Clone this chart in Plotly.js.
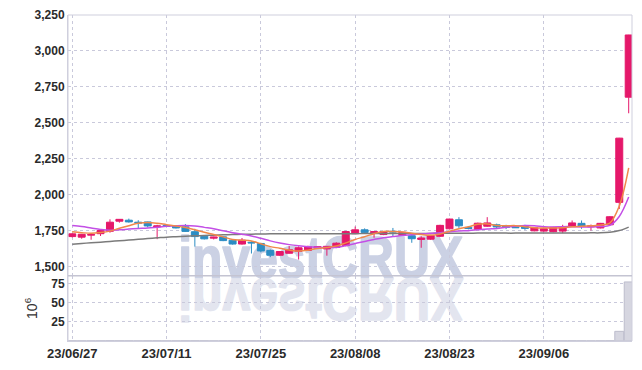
<!DOCTYPE html>
<html><head><meta charset="utf-8">
<script src="https://cdn.plot.ly/plotly-3.0.1.min.js"></script>
<style>html,body{margin:0;padding:0;background:#fff;}#chart{width:642px;height:370px;}</style>
</head><body><div id="chart"></div>
<script>
const dates = ['23/06/27','23/06/28','23/06/29','23/06/30',
 '23/07/03','23/07/04','23/07/05','23/07/06','23/07/07',
 '23/07/10','23/07/11','23/07/12','23/07/13','23/07/14',
 '23/07/17','23/07/18','23/07/19','23/07/20','23/07/21',
 '23/07/24','23/07/25','23/07/26','23/07/27','23/07/28',
 '23/07/31','23/08/01','23/08/02','23/08/03','23/08/04',
 '23/08/07','23/08/08','23/08/09','23/08/10','23/08/11',
 '23/08/14','23/08/16','23/08/17','23/08/18',
 '23/08/21','23/08/22','23/08/23','23/08/24','23/08/25',
 '23/08/28','23/08/29','23/08/30','23/08/31','23/09/01',
 '23/09/04','23/09/05','23/09/06','23/09/07','23/09/08',
 '23/09/11','23/09/12','23/09/13','23/09/14','23/09/15',
 '23/09/18','23/09/19'];
const openP = [1708,1704,1718,1728,1745,1815,1822,1808,1810,1775,1785,1783,1776,1742,1710,1697,1706,1683,1656,1668,1660,1612,1578,1592,1606,1612,1628,1622,1632,1645,1728,1755,1735,1722,1745,1716,1714,1688,1690,1710,1762,1825,1772,1757,1780,1790,1782,1775,1778,1748,1746,1742,1746,1780,1800,1776,1768,1790,1946,2678];
const highP = [1730,1726,1726,1755,1828,1830,1833,1822,1812,1790,1790,1788,1795,1762,1712,1707,1708,1686,1698,1676,1665,1618,1606,1642,1640,1645,1642,1640,1668,1748,1778,1765,1745,1745,1768,1740,1718,1710,1720,1790,1832,1843,1775,1805,1843,1798,1790,1778,1790,1771,1765,1776,1790,1820,1820,1792,1803,1850,2395,3112];
const lowP = [1702,1693,1686,1712,1735,1805,1805,1765,1772,1690,1775,1765,1740,1638,1688,1688,1676,1652,1652,1590,1598,1565,1574,1590,1548,1608,1625,1575,1628,1640,1725,1728,1700,1718,1712,1712,1665,1630,1685,1706,1758,1768,1758,1755,1776,1760,1760,1768,1755,1745,1742,1738,1732,1776,1762,1750,1765,1787,1900,2566];
const closeP = [1727,1724,1722,1750,1808,1828,1810,1802,1782,1782,1778,1768,1744,1708,1692,1704,1680,1656,1683,1664,1608,1578,1604,1616,1630,1638,1638,1640,1662,1743,1755,1737,1742,1743,1740,1738,1693,1698,1716,1786,1830,1783,1764,1801,1803,1775,1773,1770,1765,1769,1762,1772,1776,1803,1780,1782,1800,1846,2393,3111];
const ma5 = [1741,1735,1731,1736,1746,1766,1784,1800,1806,1801,
 1791,1782,1771,1756,1738,1723,1706,1688,1683,1677,
 1658,1638,1627,1614,1607,1613,1625,1632,1642,1664,
 1688,1707,1728,1744,1743,1740,1731,1722,1717,1726,
 1745,1763,1776,1793,1796,1785,1783,1784,1777,1770,
 1768,1768,1769,1776,1779,1783,1788,1802,1920,2186];
const ma10 = [1785,1778,1768,1758,1752,1755,1760,1764,1767,1773,
 1779,1783,1785,1782,1772,1762,1748,1735,1724,1712,
 1696,1678,1663,1652,1644,1638,1634,1632,1632,1645,
 1660,1674,1688,1700,1708,1716,1721,1726,1731,1735,
 1742,1747,1749,1755,1761,1765,1773,1780,1785,1783,
 1777,1775,1777,1777,1775,1775,1778,1786,1848,1983];
const ma60 = [1655,1660,1665,1669,1674,1679,1684,1689,1694,1699,
 1704,1707,1710,1713,1716,1718,1720,1722,1724,1725,
 1726,1727,1727,1727,1727,1727,1727,1728,1728,1728,
 1728,1729,1729,1729,1729,1730,1730,1730,1730,1731,
 1731,1731,1731,1732,1732,1732,1732,1732,1733,1733,
 1733,1733,1733,1733,1733,1734,1734,1738,1750,1774];
const volume = [0.4,0.3,0.3,0.4,0.6,0.5,0.4,0.3,0.4,0.5,
 0.3,0.3,0.4,0.5,0.4,0.3,0.3,0.4,0.4,0.5,
 0.5,0.5,0.3,0.4,0.4,0.3,0.3,0.3,0.4,0.6,
 0.5,0.4,0.3,0.3,0.3,0.3,0.4,0.4,0.4,0.5,
 0.5,0.5,0.3,0.5,0.5,0.3,0.3,0.2,0.3,0.3,
 0.3,0.3,0.4,0.5,0.4,0.3,0.4,0.5,12.6,77.0];
const priceTicks = [1500,1750,2000,2250,2500,2750,3000,3250];
const volTicks = [25,50,75];
const dateTicks = [dates[0],dates[10],dates[20],dates[30],dates[40],dates[50]];
const watermark = 'investCRUX';

const gridC = '#c9c9db', lineC = '#cfcfdd';
const tickFont = {family:'Liberation Sans, Arial, sans-serif', size:12, color:'#2a2a2a', weight:'bold'};

const data = [
 {type:'candlestick', x:dates, open:openP, high:highP, low:lowP, close:closeP, xaxis:'x', yaxis:'y',
  increasing:{line:{color:'#E5186A', width:1}, fillcolor:'#E5186A'},
  decreasing:{line:{color:'#2C8DC4', width:1}, fillcolor:'#2C8DC4'},
  hoverinfo:'skip'},
 {type:'scatter', mode:'lines', x:dates, y:ma60, line:{color:'#7b7b7b', width:1.5, shape:'spline'}, hoverinfo:'skip'},
 {type:'scatter', mode:'lines', x:dates, y:ma10, line:{color:'#C34FE6', width:1.5, shape:'spline'}, hoverinfo:'skip'},
 {type:'scatter', mode:'lines', x:dates, y:ma5, line:{color:'#F0884A', width:1.5, shape:'spline'}, hoverinfo:'skip'},
 {type:'bar', x:dates, y:volume, xaxis:'x', yaxis:'y2', marker:{color:'#d6d6e0', line:{color:'#bdbdcc', width:1}}, hoverinfo:'skip'}
];

const wmFont = {family:'Liberation Sans, Arial', size:60, weight:'bold'};
const wmMain = 'rgb(203,209,228)', wmRefl = 'rgb(227,229,239)';
const layout = {
 width:642, height:370,
 margin:{l:68, r:10, t:15, b:29},
 paper_bgcolor:'#ffffff', plot_bgcolor:'rgba(0,0,0,0)',
 showlegend:false, bargap:0.05, boxgap:0.26, boxgroupgap:0,
 xaxis:{type:'category', anchor:'y2', range:[-0.45,59.35], tickmode:'array', tickvals:dateTicks,
  showgrid:true, gridcolor:gridC, griddash:'dot', gridwidth:1,
  showline:true, linecolor:lineC, ticks:'', tickfont:Object.assign({}, tickFont, {size:13}),
  rangeslider:{visible:false}, fixedrange:true},
 yaxis:{domain:[0.2,1], range:[1435,3250], tickmode:'array', tickvals:priceTicks, tickformat:',d',
  showgrid:true, gridcolor:gridC, griddash:'dot', zeroline:false,
  showline:true, linecolor:lineC, ticks:'', tickfont:tickFont, fixedrange:true},
 yaxis2:{domain:[0,0.2], range:[0,85], tickmode:'array', tickvals:volTicks,
  showgrid:true, gridcolor:gridC, griddash:'dot', zeroline:false,
  showline:true, linecolor:lineC, ticks:'', tickfont:tickFont, fixedrange:true,
  title:{text:'10<sup>6</sup>', font:{family:'Liberation Sans, Arial', size:14, color:'#333'}, standoff:10}},
 shapes:[
  {type:'rect', xref:'paper', yref:'paper', x0:0, x1:1, y0:0, y1:1, line:{color:lineC, width:1}},
  {type:'line', xref:'paper', yref:'paper', x0:0, x1:1, y0:0.2, y1:0.2, line:{color:'#c4c4d2', width:1.5}}
 ],
 annotations:[
  {text:watermark, xref:'paper', yref:'paper', x:0.447, y:0.2, xanchor:'center', yanchor:'bottom', yshift:-17,
   showarrow:false, font:Object.assign({color:wmMain}, wmFont)},
  {text:watermark, xref:'paper', yref:'paper', x:0.447, y:0.2, xanchor:'center', yanchor:'bottom', yshift:-17,
   showarrow:false, font:Object.assign({color:wmRefl}, wmFont)}
 ]
};

Plotly.newPlot('chart', data, layout, {staticPlot:true, displayModeBar:false}).then(function(gd){
  const below = gd.querySelector('.layer-below') || gd.querySelector('.main-svg');
  const anns = gd.querySelectorAll('g.annotation');
  const firstChild = below.firstChild;
  anns.forEach(function(a){ below.insertBefore(a, firstChild); });
  const sx = 0.83;
  anns.forEach(function(a, k){
    const t = a.querySelector('text');
    if (!t) return;
    const bb = t.getBBox();
    const cx = bb.x + bb.width/2;
    const base = bb.y + bb.height*0.81;
    t.setAttribute('stroke', k === 0 ? wmMain : wmRefl);
    t.setAttribute('stroke-width', '1.6');
    t.setAttribute('stroke-linejoin', 'round');
    if (k === 0) {
      t.setAttribute('transform', 'translate(' + (cx*(1-sx)) + ',0) scale(' + sx + ',1)');
    } else {
      t.setAttribute('transform', 'translate(' + (cx*(1-sx)) + ',' + (2*base) + ') scale(' + sx + ',-1)');
    }
  });
});
</script>
</body></html>
